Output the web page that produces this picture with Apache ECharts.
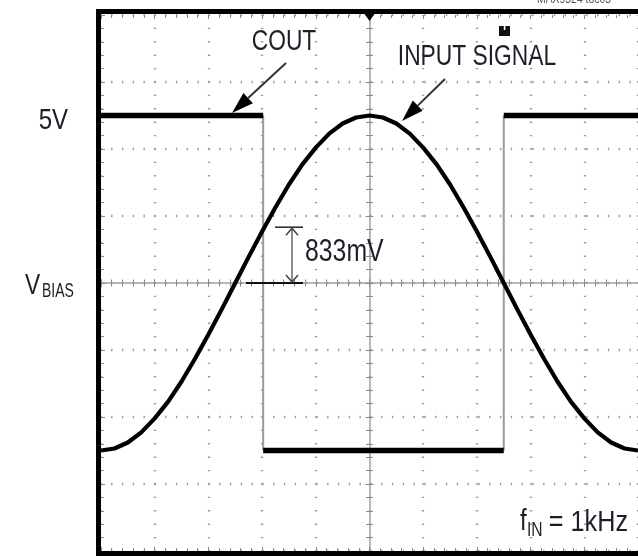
<!DOCTYPE html>
<html><head><meta charset="utf-8">
<script src="https://cdn.jsdelivr.net/npm/echarts@6/dist/echarts.min.js"></script>
<style>html,body{margin:0;padding:0;background:#fff}#c{width:638px;height:556px}</style>
</head><body><div id="c"></div>
<script>
// ---- data (time in microseconds, volts relative to VBIAS, 1V/div, 100us/div) ----
const timeUs = [-500,-475,-450,-425,-400,-375,-350,-325,-300,-275,-250,-225,-200,-175,-150,-125,-100,-75,-50,-25,0,
                25,50,75,100,125,150,175,200,225,250,275,300,325,350,375,400,425,450,475,500];
const inputSignalV = [-2.50,-2.47,-2.38,-2.23,-2.02,-1.77,-1.47,-1.13,-0.77,-0.39,0.00,0.39,0.77,1.13,1.47,1.77,2.02,2.23,2.38,2.47,2.50,
                      2.47,2.38,2.23,2.02,1.77,1.47,1.13,0.77,0.39,0.00,-0.39,-0.77,-1.13,-1.47,-1.77,-2.02,-2.23,-2.38,-2.47,-2.50];
const coutSwitchUs = [-198, 250];
const coutLevelsV = [2.5, -2.5, 2.5];
const yLabelValues = [2.5, 0];
const yLabelTexts = [['5V'], ['V', 'BIAS']];
const measureV = [0, 0.833];
const measureText = '833mV';
const freqText = ['f', 'IN', '= 1kHz'];

const FONT = "'Liberation Sans',Arial,sans-serif";
const TXT = '#1e1e28';

const chart = echarts.init(document.getElementById('c'), null, {renderer: 'canvas'});
const G = {left: 101, top: 15, width: 540, height: 536};
const X = {type: 'value', min: -500, max: 500, interval: 100};
const Y = {type: 'value', min: -4, max: 4, interval: 1};
const tickStyle = {color: '#8a8a8a', width: 1};

const bounds = [timeUs[0], ...coutSwitchUs, timeUs[timeUs.length - 1]];
const series = [];
coutSwitchUs.forEach((t, i) => {
  series.push({type: 'line', xAxisIndex: 0, yAxisIndex: 0, symbol: 'none', silent: true, z: 3,
    lineStyle: {color: '#9a9a9a', width: 2}, data: [[t, coutLevelsV[i]], [t, coutLevelsV[i + 1]]]});
});
coutLevelsV.forEach((v, i) => {
  series.push({type: 'line', xAxisIndex: 0, yAxisIndex: 0, symbol: 'none', silent: true, z: 4,
    lineStyle: {color: '#000', width: 5.5, cap: 'butt'}, data: [[bounds[i], v], [bounds[i + 1], v]]});
});
series.push({type: 'line', xAxisIndex: 0, yAxisIndex: 0, symbol: 'none', silent: true, z: 5,
  lineStyle: {color: '#000', width: 4.2}, data: timeUs.map((t, i) => [t, inputSignalV[i]])});

function tickAxis(base, extra) { return Object.assign({}, base, extra); }
const option = {
  animation: false,
  backgroundColor: '#fff',
  grid: [0, 1, 2].map(() => Object.assign({}, G)),
  xAxis: [
    tickAxis(X, {gridIndex: 0, position: 'bottom',
      axisLine: {show: false, onZero: false}, axisLabel: {show: false},
      axisTick: {show: true, inside: true, length: 4, lineStyle: tickStyle},
      minorTick: {show: true, splitNumber: 5, length: 3, lineStyle: tickStyle},
      splitLine: {show: true, lineStyle: {color: '#9c9c9c', width: 2.4, type: [1.4, 12.0], dashOffset: 0.7}}}),
    tickAxis(X, {gridIndex: 0, position: 'top',
      axisLine: {show: false, onZero: false}, axisLabel: {show: false},
      axisTick: {show: true, inside: true, length: 4, lineStyle: tickStyle},
      minorTick: {show: true, splitNumber: 5, length: 3, lineStyle: tickStyle},
      splitLine: {show: false}}),
    tickAxis(X, {gridIndex: 1,
      axisLine: {show: true, onZero: true, lineStyle: {color: '#a0a0a0', width: 1.5}}, axisLabel: {show: false},
      axisTick: {show: true, inside: true, length: 4, lineStyle: tickStyle},
      minorTick: {show: true, splitNumber: 5, length: 3.5, lineStyle: tickStyle},
      splitLine: {show: false}}),
    tickAxis(X, {gridIndex: 2,
      axisLine: {show: false, onZero: true}, axisLabel: {show: false},
      axisTick: {show: true, inside: false, length: 4, lineStyle: tickStyle},
      minorTick: {show: true, splitNumber: 5, length: 3.5, lineStyle: tickStyle},
      splitLine: {show: false}})
  ],
  yAxis: [
    tickAxis(Y, {gridIndex: 0, position: 'left',
      axisLine: {show: false, onZero: false}, axisLabel: {show: false},
      axisTick: {show: true, inside: true, length: 4, lineStyle: tickStyle},
      minorTick: {show: true, splitNumber: 5, length: 3, lineStyle: tickStyle},
      splitLine: {show: true, lineStyle: {color: '#9c9c9c', width: 2.4, type: [1.4, 9.4], dashOffset: 0.7}}}),
    tickAxis(Y, {gridIndex: 1,
      axisLine: {show: true, onZero: true, lineStyle: {color: '#a0a0a0', width: 1.5}}, axisLabel: {show: false},
      axisTick: {show: true, inside: true, length: 4, lineStyle: tickStyle},
      minorTick: {show: true, splitNumber: 5, length: 3.5, lineStyle: tickStyle},
      splitLine: {show: false}}),
    tickAxis(Y, {gridIndex: 2,
      axisLine: {show: false, onZero: true}, axisLabel: {show: false},
      axisTick: {show: true, inside: false, length: 4, lineStyle: tickStyle},
      minorTick: {show: true, splitNumber: 5, length: 3.5, lineStyle: tickStyle},
      splitLine: {show: false}})
  ],
  series: series
};
chart.setOption(option);

// ---- annotations ----
function txt(x, y, text, size, align, sx, fill) {
  return {type: 'text', x: x, y: y, scaleX: sx, z: 20,
    style: {text: text, fontFamily: FONT, fontSize: size, fill: fill || TXT, align: align, verticalAlign: 'middle'}};
}
function arrow(x1, y1, x2, y2, L, W) {
  const dx = x2 - x1, dy = y2 - y1, d = Math.hypot(dx, dy), ux = dx / d, uy = dy / d;
  const bx = x2 - ux * L, by = y2 - uy * L, nx = -uy, ny = ux;
  return [
    {type: 'line', shape: {x1: x1, y1: y1, x2: bx, y2: by}, style: {stroke: '#333', lineWidth: 2}, z: 20},
    {type: 'polygon', shape: {points: [[x2, y2], [bx + nx * W, by + ny * W], [bx - nx * W, by - ny * W]]}, style: {fill: '#000'}, z: 20}
  ];
}
const toPx = (t, v) => chart.convertToPixel({xAxisIndex: 0, yAxisIndex: 0}, [t, v]);
const p0 = toPx(0, measureV[0]);
const p1 = toPx(0, measureV[1]);
const yb = p0[1], yt = p1[1], xc = p0[0];
const y5 = toPx(0, yLabelValues[0])[1];
const yB = toPx(0, yLabelValues[1])[1];
const mx = 292;
const graphic = [
  // oscilloscope frame
  {type: 'rect', shape: {x: 98.5, y: 11.5, width: 560, height: 542}, style: {fill: 'none', stroke: '#000', lineWidth: 5}, z: 30},
  // trigger markers
  {type: 'polygon', shape: {points: [[xc - 5, 14], [xc + 5, 14], [xc, 21]]}, style: {fill: '#000'}, z: 30},
  {type: 'rect', shape: {x: 499, y: 26, width: 11, height: 10}, style: {fill: '#111'}, z: 30},
  {type: 'rect', shape: {x: 503.8, y: 26, width: 1.6, height: 4}, style: {fill: '#fff'}, z: 31},
  {type: 'text', x: 537, y: 6, scaleX: 0.8, style: {text: 'MAX9524 toc05', fontFamily: FONT, fontSize: 13, fill: '#555', verticalAlign: 'bottom'}, z: 30},
  // y labels
  txt(68, y5 + 5, yLabelTexts[0][0], 30, 'right', 0.8),
  txt(25, yB + 3, yLabelTexts[1][0], 30, 'left', 0.76),
  txt(42, yB + 8, yLabelTexts[1][1], 20, 'left', 0.7),
  // trace labels
  txt(284, 42, 'COUT', 30, 'center', 0.76),
  txt(477, 57, 'INPUT SIGNAL', 30, 'center', 0.76),
  ...arrow(286, 63, 232, 113, 22, 7),
  ...arrow(445, 79, 402, 121, 22, 7),
  // 833mV measurement
  {type: 'line', shape: {x1: 275, y1: yt, x2: 303, y2: yt}, style: {stroke: '#222', lineWidth: 1.5}, z: 20},
  {type: 'line', shape: {x1: 246, y1: yb, x2: 303, y2: yb}, style: {stroke: '#111', lineWidth: 2}, z: 20},
  {type: 'line', shape: {x1: mx, y1: yt + 1, x2: mx, y2: yb - 1}, style: {stroke: '#666', lineWidth: 1.5}, z: 20},
  {type: 'polyline', shape: {points: [[mx - 6, yt + 8], [mx, yt + 1], [mx + 6, yt + 8]]}, style: {stroke: '#444', lineWidth: 1.5, fill: null}, z: 20},
  {type: 'polyline', shape: {points: [[mx - 6, yb - 8], [mx, yb - 1], [mx + 6, yb - 8]]}, style: {stroke: '#444', lineWidth: 1.5, fill: null}, z: 20},
  txt(305, 252, measureText, 31, 'left', 0.8),
  // fIN = 1kHz
  txt(520, 522, freqText[0], 30, 'left', 0.8),
  txt(527, 530, freqText[1], 20, 'left', 0.78),
  txt(628, 523, freqText[2], 30, 'right', 0.84)
];
chart.setOption({graphic: graphic});
</script>
</body></html>
